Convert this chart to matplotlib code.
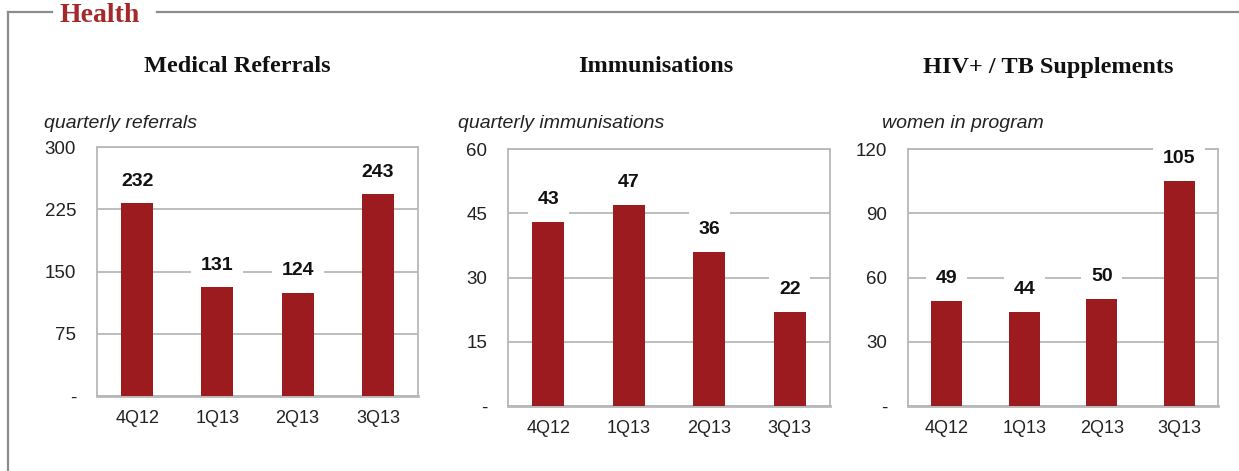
import matplotlib.pyplot as plt
from matplotlib.lines import Line2D

quarters = ['4Q12', '1Q13', '2Q13', '3Q13']
referrals = [232, 131, 124, 243]
immunisations = [43, 47, 36, 22]
hiv_tb = [49, 44, 50, 105]

titles = ['Medical Referrals', 'Immunisations', 'HIV+ / TB Supplements']
subtitles = ['quarterly referrals', 'quarterly immunisations', 'women in program']
yticks = [[0, 75, 150, 225, 300], [0, 15, 30, 45, 60], [0, 30, 60, 90, 120]]

W, H = 1239, 471
bar_col = '#9b1b1f'
grid_col = '#b8b8b8'
sans = 'Liberation Sans'
serif = 'Liberation Serif'

fig = plt.figure(figsize=(W / 100, H / 100), dpi=100)

# panel boxes in pixels: left, top, right, bottom
boxes = [(97, 147, 418, 396), (508, 149, 830, 406), (908, 149, 1218, 406)]
title_x = [237, 656, 1048]
sub_x = [44, 458, 882]

def px(x, y):
    return x / W, 1 - y / H

for i, vals in enumerate([referrals, immunisations, hiv_tb]):
    l, t, r, b = boxes[i]
    ax = fig.add_axes([l / W, 1 - b / H, (r - l) / W, (b - t) / H])
    x = range(len(quarters))
    ax.bar(x, vals, width=0.4, color=bar_col, zorder=3)
    ax.set_xlim(-0.5, 3.5)
    ax.set_ylim(0, yticks[i][-1])
    ax.set_yticks(yticks[i])
    ax.set_yticklabels(['-'] + [str(v) for v in yticks[i][1:]])
    ax.set_xticks(list(x))
    ax.set_xticklabels(quarters)
    ax.tick_params(length=0, colors='#222222')
    ax.tick_params(axis='y', pad=15, labelsize=13.5)
    ax.tick_params(axis='x', pad=10, labelsize=13)
    for lab in ax.get_xticklabels() + ax.get_yticklabels():
        lab.set_fontfamily(sans)
    ax.yaxis.grid(True, color=grid_col, lw=1.3, zorder=1)
    for s in ax.spines.values():
        s.set_color(grid_col)
        s.set_linewidth(1.3)
    ax.spines['bottom'].set_linewidth(2)
    for xi, v in zip(x, vals):
        ax.annotate(str(v), (xi, v), xytext=(0, 16), textcoords='offset points',
                    ha='center', va='center', fontsize=14, fontweight='bold',
                    family=sans, color='#111111', zorder=4,
                    bbox=dict(boxstyle='square,pad=0.5', fc='white', ec='none'))
    fig.text(*px(title_x[i], 67), titles[i], ha='center', va='center',
             fontsize=17.5, fontweight='bold', family=serif, color='#111111')
    fig.text(*px(sub_x[i], 124), subtitles[i], ha='left', va='center',
             fontsize=14, style='italic', family=sans, color='#222222')

# section frame and header
frame_col = '#8c8c8c'
fig.add_artist(Line2D([8 / W, 52 / W], [1 - 12 / H] * 2, color=frame_col, lw=1.6))
fig.add_artist(Line2D([157 / W, 1], [1 - 12 / H] * 2, color=frame_col, lw=1.6))
fig.add_artist(Line2D([8 / W, 8 / W], [0, 1 - 12 / H], color=frame_col, lw=1.6))
fig.text(*px(60, 15), 'Health', ha='left', va='center', fontsize=20,
         fontweight='bold', family=serif, color='#a3292a')

fig.savefig('out.png', dpi=100)
